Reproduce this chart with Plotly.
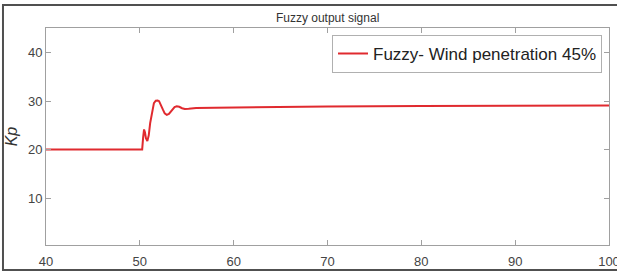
import plotly.graph_objects as go

time_s = [40, 50.25, 50.35, 50.45, 50.55, 50.65, 50.8, 50.95, 51.1, 51.3, 51.5, 51.7, 51.9,
          52.05, 52.25, 52.45, 52.65, 52.87, 53.1, 53.4, 53.7, 53.93, 54.2, 54.5, 54.8,
          55.2, 55.6, 56, 58, 60, 65, 70, 80, 90, 100]
kp = [20.1, 20.1, 22.5, 24.2, 23.6, 22.4, 21.8, 23.0, 25.5, 28.0, 29.6, 30.1, 30.15,
      30.0, 29.3, 28.3, 27.5, 27.2, 27.4, 28.2, 28.8, 28.95, 28.85, 28.55, 28.4,
      28.45, 28.55, 28.6, 28.65, 28.7, 28.8, 28.9, 29.0, 29.05, 29.1]

x_ticks = [40, 50, 60, 70, 80, 90, 100]
y_ticks = [10, 20, 30, 40]

fig = go.Figure()
fig.add_trace(go.Scatter(
    x=time_s, y=kp, mode="lines",
    name="Fuzzy- Wind penetration 45%",
    line=dict(color="#e02a2f", width=2, shape="linear"),
))

axis_common = dict(
    showgrid=False, zeroline=False, showline=True, linecolor="#a0a0a0", linewidth=1,
    mirror="ticks", ticks="inside", ticklen=5, tickcolor="#a0a0a0",
    ticklabeloverflow="allow", automargin=False,
    tickfont=dict(family="Liberation Sans, Arial", size=13, color="#444444"),
)

fig.update_layout(
    width=617, height=275,
    margin=dict(l=46, r=8, t=28, b=30),
    paper_bgcolor="white", plot_bgcolor="white",
    title=dict(text="Fuzzy output signal", x=0.531, xanchor="center", y=0.935, yanchor="middle",
               font=dict(family="Liberation Sans, Arial", size=12, color="#333333")),
    xaxis=dict(range=[40, 100], tickvals=x_ticks, ticktext=[str(v) for v in x_ticks],
               ticklabelstandoff=4, **axis_common),
    yaxis=dict(range=[0.5, 45], tickvals=y_ticks, ticktext=[str(v) for v in y_ticks],
               title=dict(text="<i>Kp</i>", standoff=6,
                          font=dict(family="Liberation Sans, Arial", size=16, color="#333333")),
               **axis_common),
    showlegend=True,
    legend=dict(x=0.9876, xanchor="right", y=0.968, yanchor="top",
                bordercolor="#b0b0b0", borderwidth=1, bgcolor="white",
                font=dict(family="Liberation Sans, Arial", size=17, color="#222222"),
                itemwidth=30, tracegroupgap=0),
    shapes=[dict(type="rect", xref="paper", yref="paper",
                 x0=-0.0764, x1=1.03, y0=-0.115, y1=1.106,
                 line=dict(color="#505050", width=2), layer="above")],
)

fig.write_html("out.html", config={"displayModeBar": False},
               post_script="document.body.style.margin='0';document.body.style.overflow='hidden';")
